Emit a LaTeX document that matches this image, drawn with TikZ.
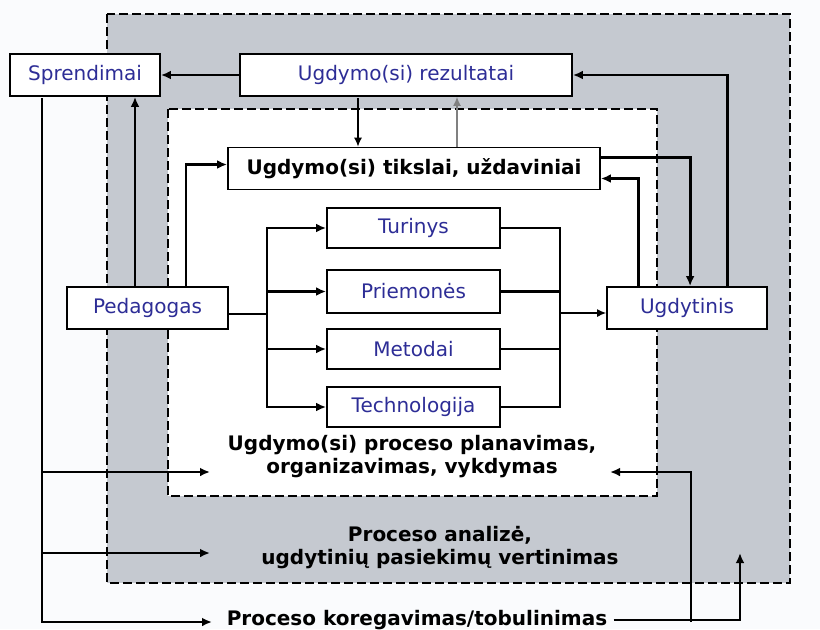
\documentclass[tikz,border=0pt]{standalone}
\usepackage{fontspec}
\setmainfont{DejaVu Sans}
\usetikzlibrary{arrows.meta,positioning,calc}
\definecolor{bgpaper}{RGB}{250,251,253}
\definecolor{zone}{RGB}{197,201,208}
\definecolor{boxtext}{RGB}{45,45,150}

\begin{document}
\begin{tikzpicture}[
  x=0.5pt, y=-0.5pt,
  box/.style={draw, line width=0.9pt, fill=white, minimum height=21pt, inner sep=2pt, text=boxtext, font=\fontsize{10}{11}\selectfont},
  item/.style={box, minimum width=86.5pt, minimum height=20pt},
  ttl/.style={font=\bfseries\fontsize{10}{11.5}\selectfont, align=center, inner sep=3pt},
  arr/.style={-{Latex[length=5pt,width=4.4pt]}, line width=1.4pt},
  tarr/.style={-{Latex[length=4.5pt,width=4pt]}, line width=0.6pt},
  lne/.style={line width=1.4pt},
  zoneline/.style={dashed, dash pattern=on 4.5pt off 2pt, line width=0.8pt}
]
  \useasboundingbox (0,0) rectangle (820,629);
  \fill[bgpaper] (0,0) rectangle (820,629);

  % areas
  \draw[zoneline, fill=zone] (107,14) rectangle (790,583);
  \draw[zoneline, fill=white] (168,109) rectangle (657,496);

  % boxes
  \node[box, minimum width=75pt] (sprend) at (85,75) {Sprendimai};
  \node[box, minimum width=166pt] (rez) at (406,75) {Ugdymo(si) rezultatai};
  \node[box, minimum width=186pt, text=black, font=\bfseries\fontsize{10}{11}\selectfont] (tik) at (414,168.5) {Ugdymo(si) tikslai, uždaviniai};
  \node[box, minimum width=80.5pt] (ped) at (147.5,308) {Pedagogas};
  \node[box, minimum width=80pt] (ugd) at (687,308) {Ugdytinis};

  \node[item] (tur) at (413.5,228) {Turinys};
  \node[item, minimum height=21.5pt] (prie) at (413.5,291.5) {Priemonės};
  \node[item] (met) at (413.5,349) {Metodai};
  \node[item] (tech) at (413.5,407) {Technologija};

  \node[ttl] (plan) at (412,457) {Ugdymo(si) proceso planavimas,\\organizavimas, vykdymas};
  \node[ttl] (anal) at (440,548) {Proceso analizė,\\ugdytinių pasiekimų vertinimas};
  \node[ttl] (kor) at (417,620) {Proceso koregavimas/tobulinimas};

  % helper points
  \coordinate (r1) at (358,98);
  \coordinate (t1) at (457,147);
  \coordinate (p1) at (135,287);
  \coordinate (p2) at (186,287);
  \coordinate (fork) at (267,314);
  \coordinate (join) at (560,313);
  \coordinate (s1) at (42,98);
  \coordinate (inPlan) at (210,472);
  \coordinate (inAnal) at (210,553);
  \coordinate (inKor) at (212,622);
  \coordinate (k2) at (740,553);
  \coordinate (k3) at (610,472);
  \coordinate (k4) at (691,622);

  % top part
  \draw[arr] (rez.west) -- (sprend.east);
  \draw[tarr] (r1) -- (r1 |- tik.north);
  \draw[tarr, gray] (t1) -- (t1 |- rez.south);
  \draw[arr] (p1) -- (p1 |- sprend.south);
  \draw[arr] (p2) |- ($(tik.west)+(0,-4)$);
  \draw[arr] ($(ugd.north west)+(32,0)$) |- ($(tik.east)+(0,10)$);
  \draw[arr] ($(tik.east)+(0,-11)$) -| ($(ugd.north west)+(84,0)$);
  \draw[arr] ($(ugd.north west)+(121,0)$) |- (rez.east);

  % middle part
  \draw[lne] ($(ped.east)+(0,6)$) -- (fork);
  \foreach \n in {tur,prie,met,tech}
    \draw[arr] (fork) |- (\n.west);
  \foreach \n in {tur,prie,met,tech}
    \draw[lne] (\n.east) -| (join);
  \draw[tarr] (join) -- (join -| ugd.west);

  % bottom part
  \draw[arr] (s1) |- (inKor);
  \draw[arr] (inPlan -| s1) -- (inPlan);
  \draw[arr] (inAnal -| s1) -- (inAnal);
  \draw[arr] (kor.east) -| (k2);
  \draw[arr] (k4) |- (k3);
\end{tikzpicture}
\end{document}
